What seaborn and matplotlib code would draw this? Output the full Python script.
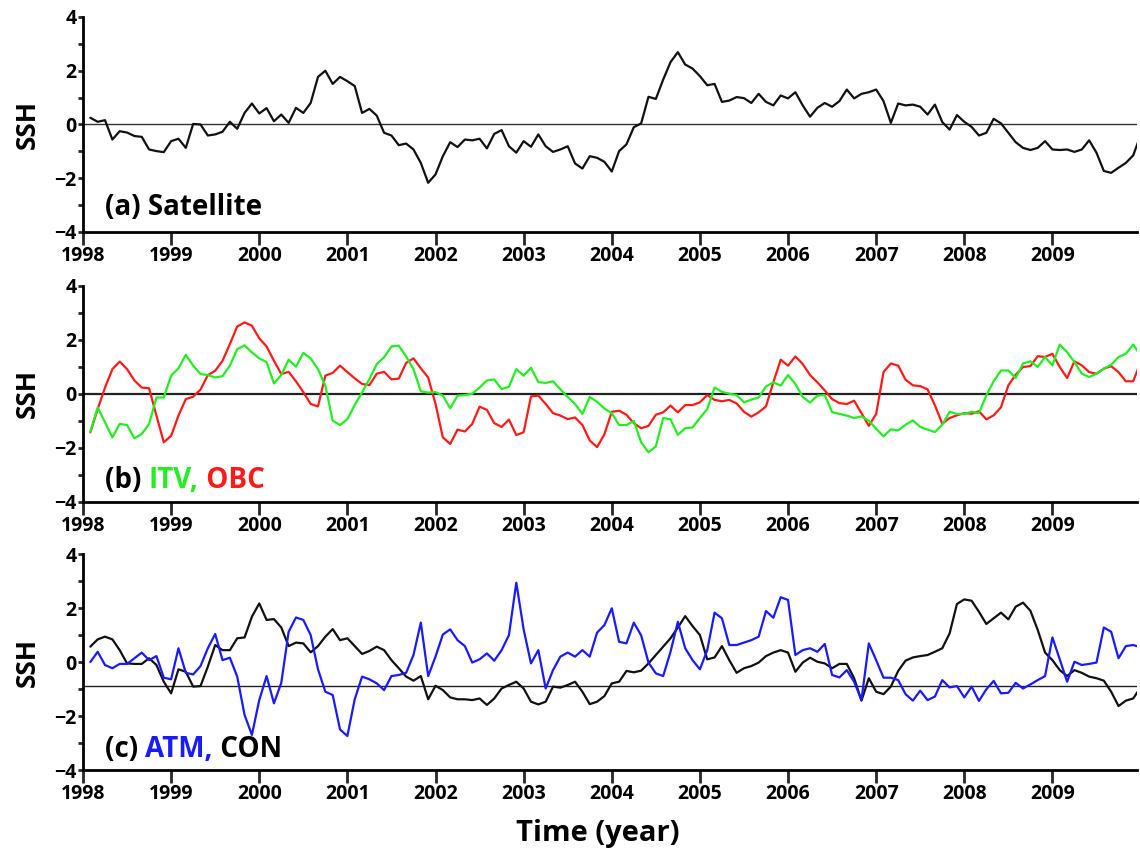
import numpy as np
import pandas as pd
import matplotlib
matplotlib.use("Agg")
import matplotlib.pyplot as plt
from matplotlib.ticker import MultipleLocator
import seaborn as sns

# ---------------- data (monthly, Jan 1998 - Dec 2009) ----------------
years = list(range(1998, 2010))
satellite = [0.25, 0.1, 0.16, -0.56, -0.25, -0.3, -0.43, -0.46, -0.93, -0.99, -1.03, -0.62,
             -0.53, -0.87, 0.02, 0.0, -0.41, -0.37, -0.27, 0.1, -0.16, 0.43, 0.78, 0.41,
             0.61, 0.12, 0.37, 0.06, 0.62, 0.43, 0.8, 1.77, 2.0, 1.51, 1.77, 1.61,
             1.43, 0.43, 0.58, 0.33, -0.31, -0.41, -0.77, -0.71, -0.93, -1.43, -2.17, -1.86,
             -1.18, -0.66, -0.84, -0.56, -0.59, -0.53, -0.89, -0.35, -0.21, -0.81, -1.05, -0.62,
             -0.83, -0.37, -0.81, -1.02, -0.93, -0.81, -1.45, -1.64, -1.18, -1.24, -1.39, -1.75,
             -0.99, -0.74, -0.1, 0.04, 1.03, 0.95, 1.67, 2.32, 2.69, 2.23, 2.08, 1.8,
             1.46, 1.51, 0.84, 0.89, 1.02, 0.98, 0.8, 1.14, 0.84, 0.71, 1.08, 0.97,
             1.2, 0.71, 0.29, 0.62, 0.8, 0.66, 0.87, 1.3, 0.97, 1.14, 1.2, 1.3,
             0.87, 0.06, 0.78, 0.71, 0.74, 0.66, 0.37, 0.74, 0.09, -0.19, 0.35, 0.1,
             -0.09, -0.41, -0.31, 0.21, 0.04, -0.31, -0.66, -0.87, -0.95, -0.87, -0.62, -0.93,
             -0.95, -0.93, -1.02, -0.93, -0.59, -1.05, -1.73, -1.8, -1.61, -1.43, -1.15, -0.4]

itv = [-1.41, -0.51, -1.06, -1.62, -1.12, -1.16, -1.65, -1.49, -1.12, -0.14, -0.14, 0.67,
       0.94, 1.44, 1.04, 0.73, 0.69, 0.6, 0.65, 1.04, 1.65, 1.79, 1.53, 1.31,
       1.17, 0.38, 0.69, 1.26, 1.0, 1.51, 1.31, 0.91, 0.3, -1.0, -1.16, -0.94,
       -0.42, 0.05, 0.54, 1.1, 1.35, 1.75, 1.78, 1.38, 0.91, 0.09, 0.04, 0.06,
       -0.07, -0.54, -0.07, -0.05, 0.0, 0.23, 0.49, 0.53, 0.17, 0.26, 0.91, 0.67,
       0.96, 0.43, 0.4, 0.46, 0.16, -0.12, -0.38, -0.75, -0.12, -0.3, -0.55, -0.72,
       -1.16, -1.16, -1.01, -1.8, -2.17, -1.95, -0.9, -0.95, -1.52, -1.28, -1.25, -0.9,
       -0.57, 0.23, 0.07, 0.0, -0.05, -0.32, -0.22, -0.14, 0.27, 0.42, 0.3, 0.69,
       0.36, -0.12, -0.33, -0.07, -0.05, -0.68, -0.75, -0.81, -0.9, -0.84, -1.0, -1.3,
       -1.58, -1.32, -1.36, -1.15, -0.99, -1.23, -1.33, -1.42, -1.15, -0.67, -0.75, -0.75,
       -0.67, -0.72, -0.06, 0.46, 0.86, 0.86, 0.58, 1.12, 1.2, 0.99, 1.36, 1.05,
       1.82, 1.54, 1.17, 0.74, 0.62, 0.74, 0.93, 1.07, 1.36, 1.48, 1.82, 1.42]

obc = [-1.43, -0.57, 0.23, 0.91, 1.19, 0.91, 0.49, 0.23, 0.2, -0.81, -1.8, -1.56,
       -0.81, -0.2, -0.11, 0.15, 0.69, 0.85, 1.22, 1.84, 2.49, 2.64, 2.52, 2.05,
       1.75, 1.22, 0.73, 0.81, 0.46, 0.06, -0.38, -0.47, 0.67, 0.77, 1.04, 0.8,
       0.57, 0.36, 0.32, 0.74, 0.81, 0.53, 0.56, 1.14, 1.31, 0.94, 0.6, -0.38,
       -1.62, -1.86, -1.33, -1.4, -1.12, -0.48, -0.6, -1.09, -1.23, -0.96, -1.53, -1.43,
       -0.1, -0.07, -0.38, -0.72, -0.81, -0.94, -0.88, -1.16, -1.73, -1.98, -1.5, -0.67,
       -0.63, -0.78, -1.09, -1.28, -1.19, -0.78, -0.69, -0.44, -0.69, -0.42, -0.42, -0.32,
       -0.05, -0.23, -0.28, -0.23, -0.36, -0.67, -0.85, -0.69, -0.47, 0.42, 1.26, 1.04,
       1.38, 1.1, 0.69, 0.42, 0.12, -0.2, -0.35, -0.38, -0.26, -0.72, -1.19, -0.75,
       0.8, 1.12, 1.04, 0.52, 0.31, 0.28, 0.16, -0.43, -1.11, -0.9, -0.8, -0.72,
       -0.74, -0.65, -0.95, -0.8, -0.5, 0.31, 0.7, 0.99, 1.02, 1.39, 1.36, 1.48,
       0.99, 0.58, 1.2, 1.05, 0.8, 0.74, 0.93, 1.02, 0.8, 0.46, 0.46, 1.17]

atm = [0.0, 0.38, -0.11, -0.23, -0.07, -0.07, 0.14, 0.35, 0.07, 0.22, -0.58, -0.64,
       0.51, -0.4, -0.46, -0.15, 0.51, 1.04, 0.07, 0.16, -0.54, -1.96, -2.7, -1.41,
       -0.52, -1.53, -0.77, 1.12, 1.65, 1.56, 1.0, -0.27, -1.1, -1.22, -2.5, -2.74,
       -1.38, -0.54, -0.64, -0.79, -1.04, -0.52, -0.48, -0.4, 0.26, 1.46, -0.52, 0.2,
       1.02, 1.21, 0.81, 0.59, -0.02, 0.1, 0.32, 0.05, 0.44, 1.0, 2.94, 1.21,
       -0.05, 0.44, -0.98, -0.3, 0.2, 0.35, 0.2, 0.44, 0.2, 1.09, 1.37, 1.99,
       0.75, 0.69, 1.46, 0.99, -0.02, -0.42, -0.52, 0.38, 1.49, 0.51, 0.07, -0.27,
       0.44, 1.83, 1.62, 0.63, 0.63, 0.72, 0.81, 0.94, 1.89, 1.64, 2.4, 2.3,
       0.26, 0.44, 0.51, 0.38, 0.67, -0.48, -0.57, -0.3, -0.73, -1.41, 0.69, 0.07,
       -0.58, -0.58, -0.67, -1.19, -1.43, -1.06, -1.41, -1.28, -0.67, -0.94, -0.89, -1.31,
       -0.91, -1.44, -1.01, -0.7, -1.16, -1.14, -0.77, -0.98, -0.83, -0.67, -0.52, 0.91,
       0.1, -0.73, 0.01, -0.11, -0.07, -0.02, 1.28, 1.12, 0.14, 0.59, 0.63, 0.54]

con = [0.57, 0.84, 0.94, 0.84, 0.44, -0.05, -0.07, -0.07, 0.14, -0.11, -0.73, -1.16,
       -0.27, -0.36, -0.91, -0.89, -0.17, 0.63, 0.44, 0.44, 0.88, 0.91, 1.68, 2.17,
       1.56, 1.59, 1.28, 0.59, 0.72, 0.69, 0.36, 0.59, 0.94, 1.22, 0.81, 0.88,
       0.59, 0.3, 0.41, 0.57, 0.44, 0.07, -0.23, -0.54, -0.69, -0.52, -1.38, -0.88,
       -1.04, -1.31, -1.38, -1.38, -1.41, -1.35, -1.59, -1.35, -0.98, -0.85, -0.73, -0.98,
       -1.47, -1.57, -1.47, -0.91, -0.95, -0.85, -0.73, -1.1, -1.56, -1.47, -1.26, -0.79,
       -0.73, -0.33, -0.38, -0.32, -0.05, 0.26, 0.57, 0.88, 1.28, 1.7, 1.33, 1.0,
       0.1, 0.17, 0.59, 0.07, -0.4, -0.23, -0.15, -0.02, 0.22, 0.35, 0.44, 0.35,
       -0.36, -0.02, 0.16, 0.01, -0.05, -0.23, -0.07, -0.07, -0.6, -1.43, -0.6, -1.1,
       -1.19, -0.91, -0.33, 0.05, 0.17, 0.22, 0.26, 0.38, 0.51, 1.06, 2.15, 2.32,
       2.27, 1.86, 1.41, 1.62, 1.83, 1.58, 2.05, 2.2, 1.9, 1.19, 0.35, 0.07,
       -0.3, -0.52, -0.3, -0.4, -0.54, -0.6, -0.69, -1.1, -1.63, -1.43, -1.35, -0.94]

ref_c = -0.88   # reference line level in panel (c)

time = 1998 + (np.arange(len(satellite)) + 1) / 12.0

# ---------------- style ----------------
sns.set_style("white")
plt.rcParams['font.family'] = ['Open Sans', 'DejaVu Sans']
plt.rcParams['font.weight'] = 'bold'

GREEN = "#22ee22"
RED = "#ff1a1a"
BLUE = "#1a1aff"
BLACK = "#111111"

fig = plt.figure(figsize=(11.4, 8.57), dpi=100)
left, width = 0.0728, 0.9242
ax_a = fig.add_axes([left, 0.7293, width, 0.2509])
ax_b = fig.add_axes([left, 0.4146, width, 0.2520])
ax_c = fig.add_axes([left, 0.1015, width, 0.2520])

df = pd.DataFrame({"time": time, "Satellite": satellite, "ITV": itv, "OBC": obc,
                   "ATM": atm, "CON": con})

LW = 1.6
sns.lineplot(data=df, x="time", y="Satellite", ax=ax_a, color=BLACK, lw=LW)
sns.lineplot(data=df, x="time", y="OBC", ax=ax_b, color=RED, lw=LW)
sns.lineplot(data=df, x="time", y="ITV", ax=ax_b, color=GREEN, lw=LW)
sns.lineplot(data=df, x="time", y="CON", ax=ax_c, color=BLACK, lw=LW)
sns.lineplot(data=df, x="time", y="ATM", ax=ax_c, color=BLUE, lw=LW)

ax_a.axhline(0, color="#333333", lw=1.0, zorder=1)
ax_b.axhline(0, color="#222222", lw=1.6, zorder=1)
ax_c.axhline(ref_c, color="#222222", lw=1.0, zorder=1)

TL = 14
for ax in (ax_a, ax_b, ax_c):
    ax.set_xlim(1998, 2009.955)
    ax.set_ylim(-4, 4)
    ax.set_xticks(years)
    ax.set_xticklabels([str(y) for y in years])
    ax.yaxis.set_major_locator(MultipleLocator(2))
    ax.yaxis.set_minor_locator(MultipleLocator(1))
    for s in ("top", "right"):
        ax.spines[s].set_visible(False)
    for s in ("left", "bottom"):
        ax.spines[s].set_linewidth(2.0)
        ax.spines[s].set_color("black")
    ax.tick_params(axis="x", which="major", direction="out", length=9, width=2,
                   labelsize=TL, pad=1, bottom=True, labelcolor="black")
    ax.tick_params(axis="y", which="both", direction="out", length=3.5, width=2,
                   labelsize=TL, pad=1, left=True, labelcolor="black")
    for lab in ax.get_xticklabels() + ax.get_yticklabels():
        lab.set_fontweight("bold")
    ax.set_xlabel("")
    ax.set_ylabel("SSH", fontsize=19, fontweight="bold", color="black")
    ax.yaxis.set_label_coords(-0.04, 0.5)
    ax.patch.set_alpha(0)

fs = 20
ax_a.text(1998.25, -3.1, "(a) Satellite", fontsize=fs, fontweight="bold", color="black",
          va="center", ha="left")

tb = ax_b.text(1998.25, -3.2, "(b) ", fontsize=fs, fontweight="bold", color="black",
               va="center", ha="left")
tb2 = ax_b.annotate("ITV,", xy=(1, 0), xycoords=tb, fontsize=fs, fontweight="bold",
                    color=GREEN, va="bottom", ha="left")
ax_b.annotate(" OBC", xy=(1, 0), xycoords=tb2, fontsize=fs, fontweight="bold",
              color=RED, va="bottom", ha="left")

tc = ax_c.text(1998.25, -3.25, "(c) ", fontsize=fs, fontweight="bold", color="black",
               va="center", ha="left")
tc2 = ax_c.annotate("ATM,", xy=(1, 0), xycoords=tc, fontsize=fs, fontweight="bold",
                    color=BLUE, va="bottom", ha="left")
ax_c.annotate(" CON", xy=(1, 0), xycoords=tc2, fontsize=fs, fontweight="bold",
              color="black", va="bottom", ha="left")

fig.text(0.5246, 0.028, "Time (year)", fontsize=21, fontweight="bold",
         ha="center", va="center", color="black")

fig.savefig("out.png", dpi=100)
